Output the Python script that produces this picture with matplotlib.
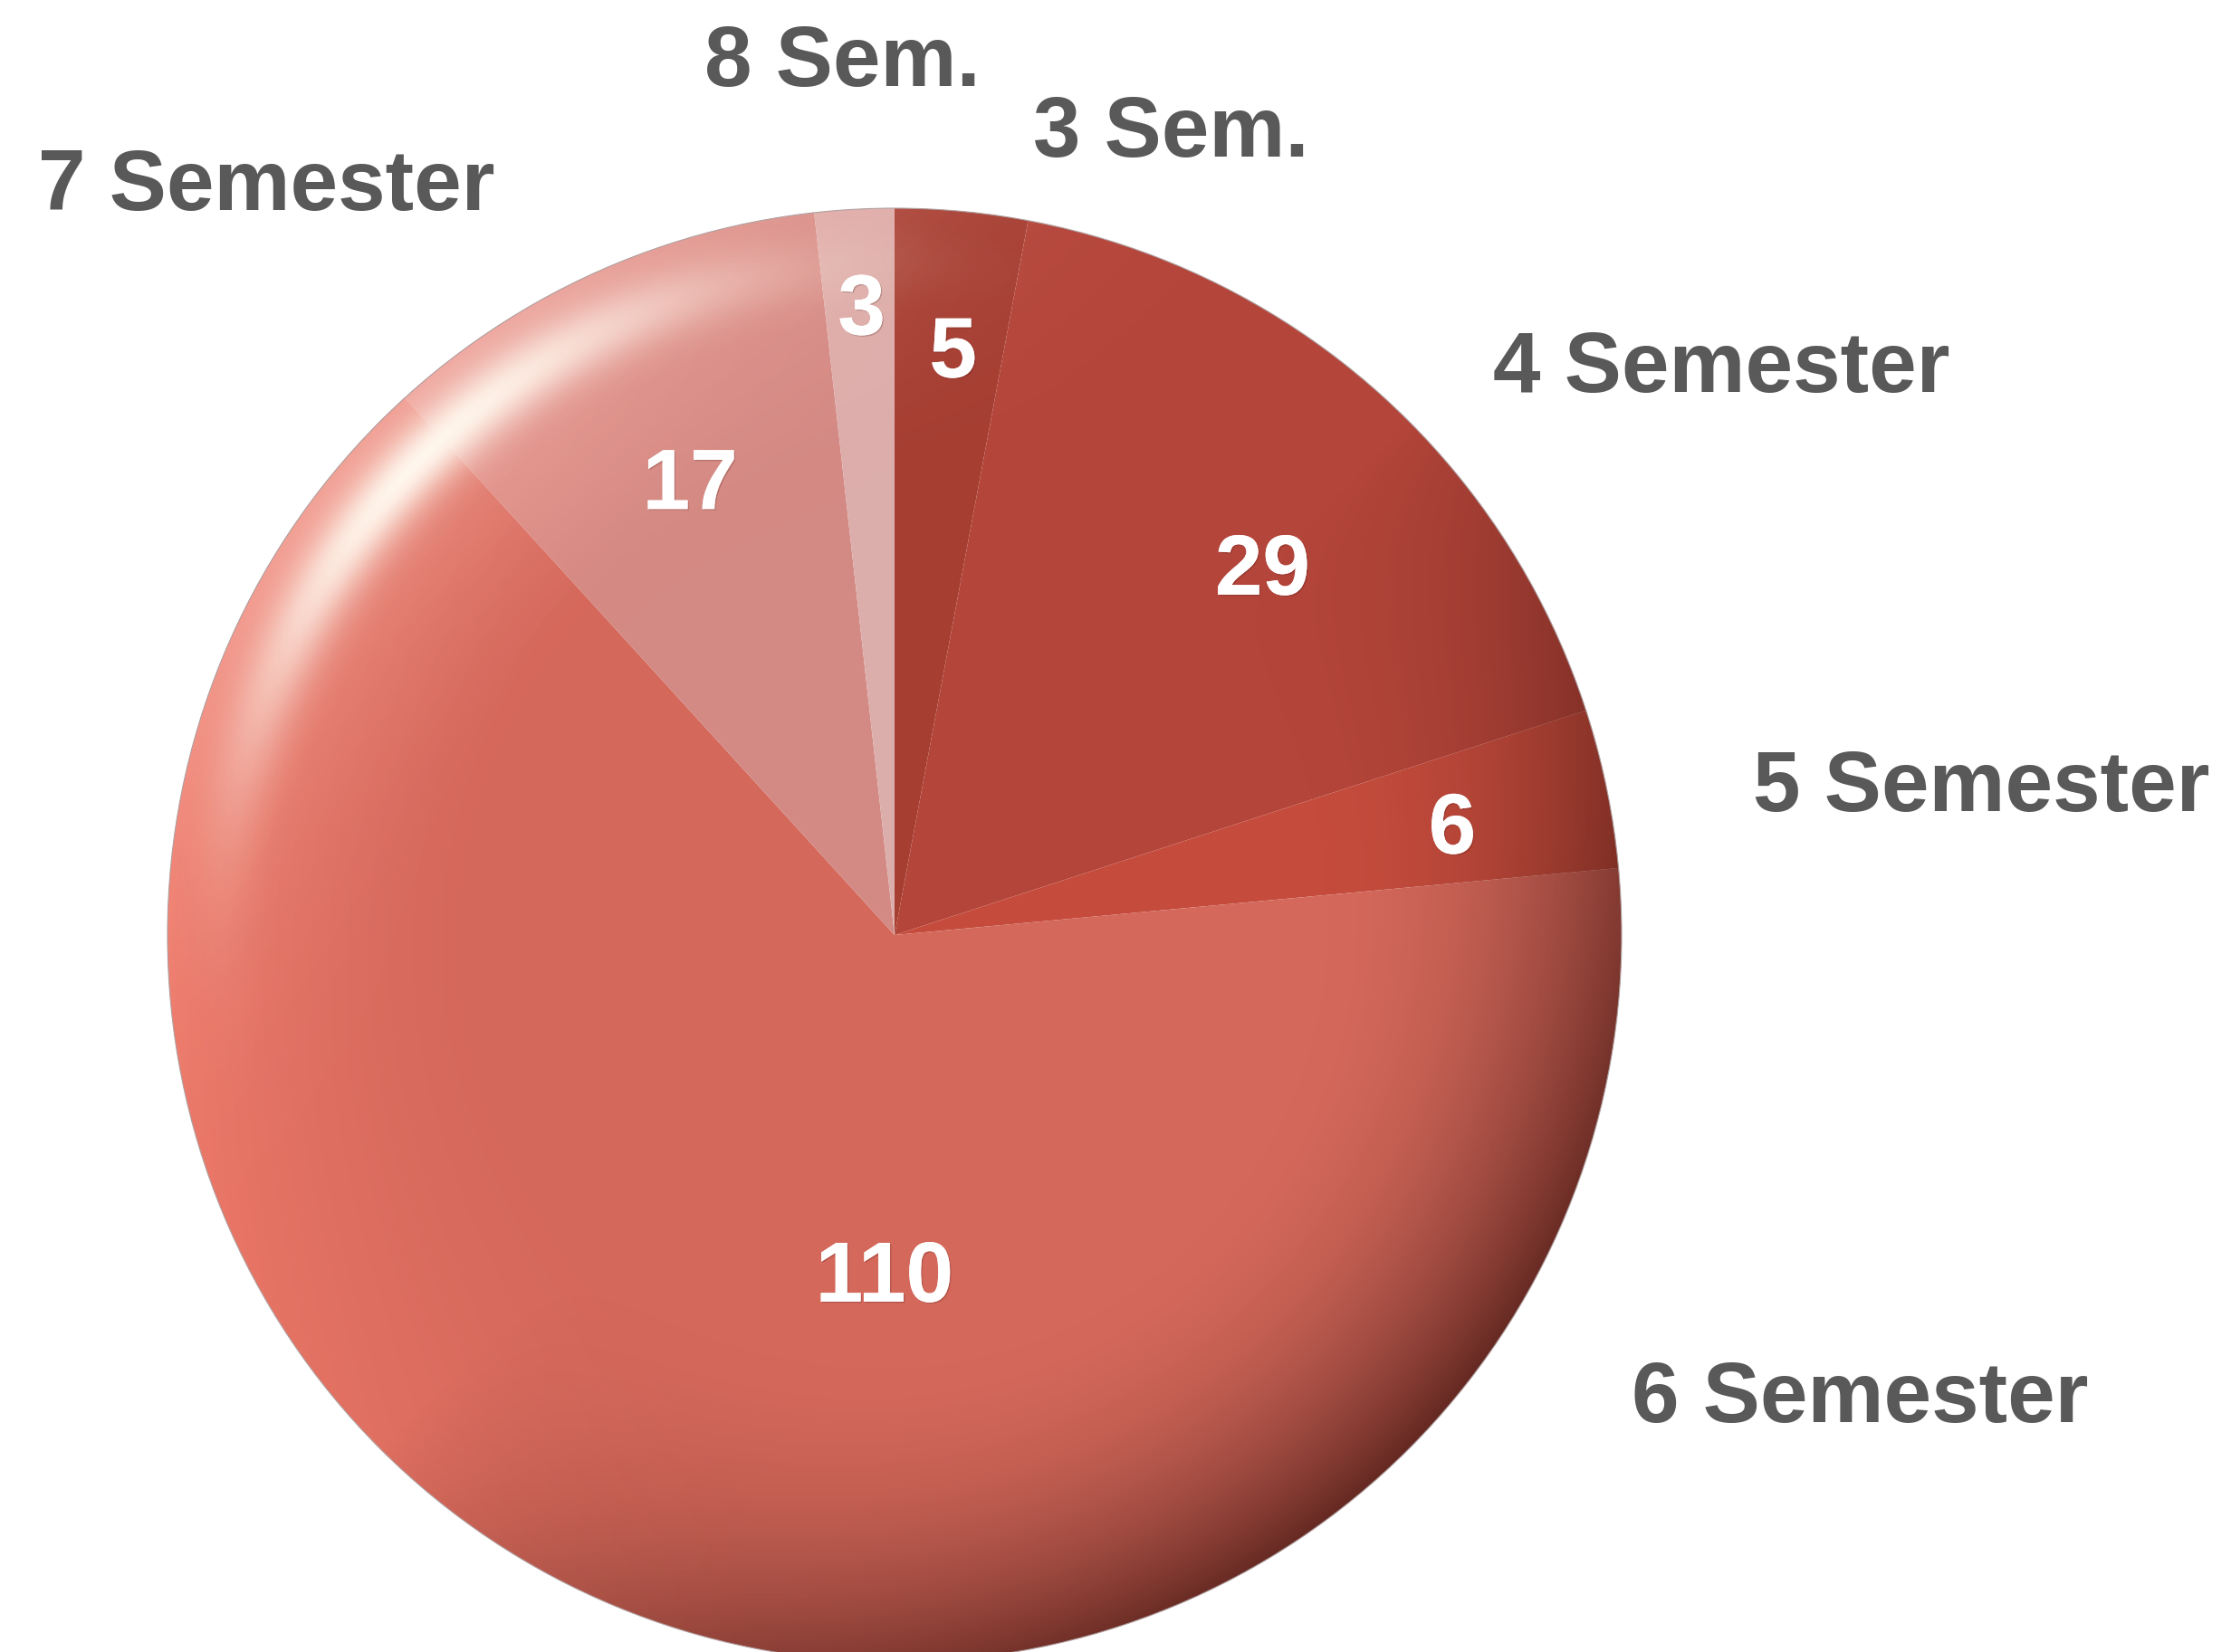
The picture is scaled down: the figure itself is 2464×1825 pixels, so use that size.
import numpy as np
import matplotlib
matplotlib.use('Agg')
import matplotlib.pyplot as plt
from matplotlib.patches import Circle
import matplotlib.patheffects as pe

categorias = ['3 Sem.', '4 Semester', '5 Semester', '6 Semester', '7 Semester', '8 Sem.']
valores = [5, 29, 6, 110, 17, 3]
colores = ['#a63e32', '#b4453a', '#c54c3d', '#d4685b', '#d48a84', '#dcaeab']

# posiciones de las etiquetas (angulo en grados, distancia en radios)
pos_categorias = [(71.1, 1.174), (34.7, 1.383), (8.0, 1.51), (-25.4, 1.47), (129.8, 1.349), (93.4, 1.21)]
pos_valores = [(84.3, 0.811), (45.1, 0.717), (11.2, 0.782), (-91.7, 0.465), (114.2, 0.686), (93.0, 0.867)]

W, H, DPI = 2464, 1825, 100
cx, cy, R = 988, 1033, 803
dy = -0.009  # ajuste vertical del texto

fig = plt.figure(figsize=(W / DPI, H / DPI), dpi=DPI)
ax = fig.add_axes([0, 0, 1, 1])

wedges, _ = ax.pie(valores, colors=colores, startangle=90, counterclock=False,
                   radius=1, wedgeprops=dict(linewidth=0))

# sombreado tipo 3D
n = 800
xs = np.linspace(-1, 1, n)
X, Y = np.meshgrid(xs, xs[::-1])
r = np.sqrt(X**2 + Y**2)
phi = np.arctan2(Y, X)
d = np.cos(phi - np.deg2rad(135))

dark = np.zeros((n, n, 4))
dark[..., 0] = 0.25
dark[..., 1] = 0.08
dark[..., 2] = 0.06
rim = np.clip((r - 0.55) / 0.45, 0, 1) ** 2.2
dark[..., 3] = np.clip(rim * np.clip(-d, 0, 1) ** 0.8 * 0.75, 0, 1)

# brillo salmon en el borde izquierdo
glow = np.zeros((n, n, 4))
glow[..., 0] = 1.0
glow[..., 1] = 0.52
glow[..., 2] = 0.45
g = np.clip((r - 0.55) / 0.45, 0, 1) ** 1.5
d2 = np.cos(phi - np.deg2rad(172))
glow[..., 3] = np.clip(g * np.clip(d2, 0, 1) ** 1.5 * 0.6, 0, 1)

# reflejo rosado arriba a la izquierda
pink = np.zeros((n, n, 4))
pink[..., 0] = 1.0
pink[..., 1] = 0.82
pink[..., 2] = 0.80
g3 = np.clip((r - 0.6) / 0.4, 0, 1) ** 1.5
pink[..., 3] = np.clip(g3 * np.clip(d, 0, 1) ** 4 * 0.45, 0, 1)

# reflejo blanco
light = np.zeros((n, n, 4))
light[..., 0] = 1.0
light[..., 1] = 0.97
light[..., 2] = 0.93
band = np.exp(-((r - 0.925) / 0.045) ** 2)
light[..., 3] = np.clip(band * np.clip(d, 0, 1) ** 8 * 1.0, 0, 1)

for img in (dark, glow, pink, light):
    im = ax.imshow(img, extent=[-1, 1, -1, 1], interpolation='bilinear', zorder=3)
    im.set_clip_path(Circle((0, 0), 1, transform=ax.transData))

ax.add_patch(Circle((0, 0), 1, fill=False, edgecolor='#b0a0a0', linewidth=0.8, zorder=4))

sombra = [pe.withSimplePatchShadow(offset=(1, -1), shadow_rgbFace='#3a1010', alpha=0.2), pe.Normal()]

for v, (ang, dist) in zip(valores, pos_valores):
    a = np.deg2rad(ang)
    ax.text(dist * np.cos(a), dist * np.sin(a) + dy, str(v), ha='center', va='center',
            fontsize=68, fontweight='bold', color='white', family='Liberation Sans',
            zorder=5, path_effects=sombra)

for cat, (ang, dist) in zip(categorias, pos_categorias):
    a = np.deg2rad(ang)
    ax.text(dist * np.cos(a), dist * np.sin(a) + dy, cat, ha='center', va='center',
            fontsize=68, fontweight='bold', color='#595959', family='Liberation Sans', zorder=5)

ax.set_xlim(-cx / R, (W - cx) / R)
ax.set_ylim((cy - H) / R, cy / R)
ax.set_aspect('auto')
ax.axis('off')

plt.savefig('out.png', dpi=DPI, facecolor='white')
